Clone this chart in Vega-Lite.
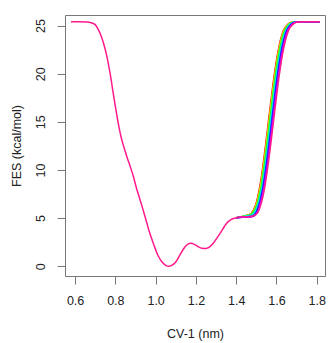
{
  "$schema": "https://vega.github.io/schema/vega-lite/v6.json",
  "width": 260,
  "height": 261,
  "autosize": "none",
  "padding": {"left": 65, "top": 15, "right": 4, "bottom": 67},
  "config": {
    "view": {"stroke": "#777777", "strokeWidth": 1},
    "font": "Liberation Sans",
    "axis": {
      "grid": false,
      "domain": false,
      "tickColor": "#777777",
      "tickSize": 8,
      "labelFontSize": 12.5,
      "titleFontSize": 12.5,
      "titleFontWeight": "normal",
      "labelColor": "#222222",
      "titleColor": "#222222",
      "labelFlush": false,
      "labelOverlap": false,
      "labelBound": false
    }
  },
  "data": {
    "values": [
      {"s": "a0", "x": 1.40, "y": 5.05},
      {"s": "a0", "x": 1.43, "y": 5.15},
      {"s": "a0", "x": 1.435, "y": 5.22},
      {"s": "a0", "x": 1.465, "y": 5.35},
      {"s": "a0", "x": 1.485, "y": 5.8},
      {"s": "a0", "x": 1.5, "y": 6.6},
      {"s": "a0", "x": 1.515, "y": 8.0},
      {"s": "a0", "x": 1.53, "y": 10.0},
      {"s": "a0", "x": 1.545, "y": 12.4},
      {"s": "a0", "x": 1.56, "y": 15.0},
      {"s": "a0", "x": 1.575, "y": 17.6},
      {"s": "a0", "x": 1.59, "y": 20.0},
      {"s": "a0", "x": 1.605, "y": 22.0},
      {"s": "a0", "x": 1.62, "y": 23.5},
      {"s": "a0", "x": 1.635, "y": 24.5},
      {"s": "a0", "x": 1.655, "y": 25.1},
      {"s": "a0", "x": 1.675, "y": 25.35},
      {"s": "a0", "x": 1.705, "y": 25.4},
      {"s": "a0", "x": 1.815, "y": 25.4},

      {"s": "a1", "x": 1.40, "y": 5.05},
      {"s": "a1", "x": 1.43, "y": 5.15},
      {"s": "a1", "x": 1.437, "y": 5.22},
      {"s": "a1", "x": 1.467, "y": 5.35},
      {"s": "a1", "x": 1.487, "y": 5.8},
      {"s": "a1", "x": 1.502, "y": 6.6},
      {"s": "a1", "x": 1.517, "y": 8.0},
      {"s": "a1", "x": 1.532, "y": 10.0},
      {"s": "a1", "x": 1.547, "y": 12.4},
      {"s": "a1", "x": 1.562, "y": 15.0},
      {"s": "a1", "x": 1.577, "y": 17.6},
      {"s": "a1", "x": 1.592, "y": 20.0},
      {"s": "a1", "x": 1.607, "y": 22.0},
      {"s": "a1", "x": 1.622, "y": 23.5},
      {"s": "a1", "x": 1.637, "y": 24.5},
      {"s": "a1", "x": 1.657, "y": 25.1},
      {"s": "a1", "x": 1.677, "y": 25.35},
      {"s": "a1", "x": 1.707, "y": 25.4},
      {"s": "a1", "x": 1.815, "y": 25.4},

      {"s": "a2", "x": 1.40, "y": 5.05},
      {"s": "a2", "x": 1.43, "y": 5.15},
      {"s": "a2", "x": 1.439, "y": 5.22},
      {"s": "a2", "x": 1.469, "y": 5.35},
      {"s": "a2", "x": 1.489, "y": 5.8},
      {"s": "a2", "x": 1.504, "y": 6.6},
      {"s": "a2", "x": 1.519, "y": 8.0},
      {"s": "a2", "x": 1.534, "y": 10.0},
      {"s": "a2", "x": 1.549, "y": 12.4},
      {"s": "a2", "x": 1.564, "y": 15.0},
      {"s": "a2", "x": 1.579, "y": 17.6},
      {"s": "a2", "x": 1.594, "y": 20.0},
      {"s": "a2", "x": 1.609, "y": 22.0},
      {"s": "a2", "x": 1.624, "y": 23.5},
      {"s": "a2", "x": 1.639, "y": 24.5},
      {"s": "a2", "x": 1.659, "y": 25.1},
      {"s": "a2", "x": 1.679, "y": 25.35},
      {"s": "a2", "x": 1.709, "y": 25.4},
      {"s": "a2", "x": 1.815, "y": 25.4},

      {"s": "a3", "x": 1.40, "y": 5.05},
      {"s": "a3", "x": 1.43, "y": 5.15},
      {"s": "a3", "x": 1.441, "y": 5.22},
      {"s": "a3", "x": 1.471, "y": 5.35},
      {"s": "a3", "x": 1.491, "y": 5.8},
      {"s": "a3", "x": 1.506, "y": 6.6},
      {"s": "a3", "x": 1.521, "y": 8.0},
      {"s": "a3", "x": 1.536, "y": 10.0},
      {"s": "a3", "x": 1.551, "y": 12.4},
      {"s": "a3", "x": 1.566, "y": 15.0},
      {"s": "a3", "x": 1.581, "y": 17.6},
      {"s": "a3", "x": 1.596, "y": 20.0},
      {"s": "a3", "x": 1.611, "y": 22.0},
      {"s": "a3", "x": 1.626, "y": 23.5},
      {"s": "a3", "x": 1.641, "y": 24.5},
      {"s": "a3", "x": 1.661, "y": 25.1},
      {"s": "a3", "x": 1.681, "y": 25.35},
      {"s": "a3", "x": 1.711, "y": 25.4},
      {"s": "a3", "x": 1.815, "y": 25.4},

      {"s": "a4", "x": 1.40, "y": 5.05},
      {"s": "a4", "x": 1.43, "y": 5.15},
      {"s": "a4", "x": 1.444, "y": 5.22},
      {"s": "a4", "x": 1.474, "y": 5.35},
      {"s": "a4", "x": 1.494, "y": 5.8},
      {"s": "a4", "x": 1.509, "y": 6.6},
      {"s": "a4", "x": 1.524, "y": 8.0},
      {"s": "a4", "x": 1.539, "y": 10.0},
      {"s": "a4", "x": 1.554, "y": 12.4},
      {"s": "a4", "x": 1.569, "y": 15.0},
      {"s": "a4", "x": 1.584, "y": 17.6},
      {"s": "a4", "x": 1.599, "y": 20.0},
      {"s": "a4", "x": 1.614, "y": 22.0},
      {"s": "a4", "x": 1.629, "y": 23.5},
      {"s": "a4", "x": 1.644, "y": 24.5},
      {"s": "a4", "x": 1.664, "y": 25.1},
      {"s": "a4", "x": 1.684, "y": 25.35},
      {"s": "a4", "x": 1.714, "y": 25.4},
      {"s": "a4", "x": 1.815, "y": 25.4},

      {"s": "a5", "x": 1.40, "y": 5.05},
      {"s": "a5", "x": 1.43, "y": 5.15},
      {"s": "a5", "x": 1.447, "y": 5.2},
      {"s": "a5", "x": 1.477, "y": 5.3},
      {"s": "a5", "x": 1.497, "y": 5.75},
      {"s": "a5", "x": 1.512, "y": 6.6},
      {"s": "a5", "x": 1.527, "y": 8.0},
      {"s": "a5", "x": 1.542, "y": 10.0},
      {"s": "a5", "x": 1.557, "y": 12.4},
      {"s": "a5", "x": 1.572, "y": 15.0},
      {"s": "a5", "x": 1.587, "y": 17.6},
      {"s": "a5", "x": 1.602, "y": 20.0},
      {"s": "a5", "x": 1.617, "y": 22.0},
      {"s": "a5", "x": 1.632, "y": 23.5},
      {"s": "a5", "x": 1.647, "y": 24.5},
      {"s": "a5", "x": 1.667, "y": 25.1},
      {"s": "a5", "x": 1.687, "y": 25.35},
      {"s": "a5", "x": 1.717, "y": 25.4},
      {"s": "a5", "x": 1.815, "y": 25.4},

      {"s": "a6", "x": 1.40, "y": 5.05},
      {"s": "a6", "x": 1.43, "y": 5.12},
      {"s": "a6", "x": 1.45, "y": 5.15},
      {"s": "a6", "x": 1.48, "y": 5.25},
      {"s": "a6", "x": 1.50, "y": 5.7},
      {"s": "a6", "x": 1.515, "y": 6.6},
      {"s": "a6", "x": 1.53, "y": 8.0},
      {"s": "a6", "x": 1.545, "y": 10.0},
      {"s": "a6", "x": 1.56, "y": 12.4},
      {"s": "a6", "x": 1.575, "y": 15.0},
      {"s": "a6", "x": 1.59, "y": 17.6},
      {"s": "a6", "x": 1.605, "y": 20.0},
      {"s": "a6", "x": 1.62, "y": 22.0},
      {"s": "a6", "x": 1.635, "y": 23.5},
      {"s": "a6", "x": 1.65, "y": 24.5},
      {"s": "a6", "x": 1.67, "y": 25.1},
      {"s": "a6", "x": 1.69, "y": 25.35},
      {"s": "a6", "x": 1.72, "y": 25.4},
      {"s": "a6", "x": 1.815, "y": 25.4},

      {"s": "a7", "x": 1.40, "y": 5.05},
      {"s": "a7", "x": 1.43, "y": 5.1},
      {"s": "a7", "x": 1.453, "y": 5.12},
      {"s": "a7", "x": 1.483, "y": 5.2},
      {"s": "a7", "x": 1.503, "y": 5.65},
      {"s": "a7", "x": 1.518, "y": 6.6},
      {"s": "a7", "x": 1.533, "y": 8.0},
      {"s": "a7", "x": 1.548, "y": 10.0},
      {"s": "a7", "x": 1.563, "y": 12.4},
      {"s": "a7", "x": 1.578, "y": 15.0},
      {"s": "a7", "x": 1.593, "y": 17.6},
      {"s": "a7", "x": 1.608, "y": 20.0},
      {"s": "a7", "x": 1.623, "y": 22.0},
      {"s": "a7", "x": 1.638, "y": 23.5},
      {"s": "a7", "x": 1.653, "y": 24.5},
      {"s": "a7", "x": 1.673, "y": 25.1},
      {"s": "a7", "x": 1.693, "y": 25.35},
      {"s": "a7", "x": 1.723, "y": 25.4},
      {"s": "a7", "x": 1.815, "y": 25.4},

      {"s": "a8", "x": 1.40, "y": 5.05},
      {"s": "a8", "x": 1.43, "y": 5.1},
      {"s": "a8", "x": 1.456, "y": 5.1},
      {"s": "a8", "x": 1.486, "y": 5.2},
      {"s": "a8", "x": 1.506, "y": 5.6},
      {"s": "a8", "x": 1.521, "y": 6.6},
      {"s": "a8", "x": 1.536, "y": 8.0},
      {"s": "a8", "x": 1.551, "y": 10.0},
      {"s": "a8", "x": 1.566, "y": 12.4},
      {"s": "a8", "x": 1.581, "y": 15.0},
      {"s": "a8", "x": 1.596, "y": 17.6},
      {"s": "a8", "x": 1.611, "y": 20.0},
      {"s": "a8", "x": 1.626, "y": 22.0},
      {"s": "a8", "x": 1.641, "y": 23.5},
      {"s": "a8", "x": 1.656, "y": 24.5},
      {"s": "a8", "x": 1.676, "y": 25.1},
      {"s": "a8", "x": 1.696, "y": 25.35},
      {"s": "a8", "x": 1.726, "y": 25.4},
      {"s": "a8", "x": 1.815, "y": 25.4},

      {"s": "a9", "x": 0.58, "y": 25.4},
      {"s": "a9", "x": 0.62, "y": 25.4},
      {"s": "a9", "x": 0.66, "y": 25.38},
      {"s": "a9", "x": 0.68, "y": 25.3},
      {"s": "a9", "x": 0.70, "y": 25.1},
      {"s": "a9", "x": 0.715, "y": 24.6},
      {"s": "a9", "x": 0.73, "y": 23.9},
      {"s": "a9", "x": 0.745, "y": 22.9},
      {"s": "a9", "x": 0.76, "y": 21.6},
      {"s": "a9", "x": 0.775, "y": 19.9},
      {"s": "a9", "x": 0.79, "y": 17.9},
      {"s": "a9", "x": 0.80, "y": 16.6},
      {"s": "a9", "x": 0.815, "y": 14.8},
      {"s": "a9", "x": 0.83, "y": 13.3},
      {"s": "a9", "x": 0.845, "y": 12.2},
      {"s": "a9", "x": 0.86, "y": 11.2},
      {"s": "a9", "x": 0.875, "y": 10.3},
      {"s": "a9", "x": 0.89, "y": 9.3},
      {"s": "a9", "x": 0.905, "y": 8.1},
      {"s": "a9", "x": 0.92, "y": 7.1},
      {"s": "a9", "x": 0.94, "y": 5.7},
      {"s": "a9", "x": 0.955, "y": 4.6},
      {"s": "a9", "x": 0.97, "y": 3.5},
      {"s": "a9", "x": 0.99, "y": 2.3},
      {"s": "a9", "x": 1.01, "y": 1.2},
      {"s": "a9", "x": 1.03, "y": 0.5},
      {"s": "a9", "x": 1.05, "y": 0.1},
      {"s": "a9", "x": 1.065, "y": 0.0},
      {"s": "a9", "x": 1.08, "y": 0.1},
      {"s": "a9", "x": 1.10, "y": 0.45},
      {"s": "a9", "x": 1.12, "y": 1.15},
      {"s": "a9", "x": 1.14, "y": 1.85},
      {"s": "a9", "x": 1.16, "y": 2.3},
      {"s": "a9", "x": 1.175, "y": 2.38},
      {"s": "a9", "x": 1.19, "y": 2.3},
      {"s": "a9", "x": 1.21, "y": 2.05},
      {"s": "a9", "x": 1.23, "y": 1.88},
      {"s": "a9", "x": 1.25, "y": 1.85},
      {"s": "a9", "x": 1.27, "y": 2.05},
      {"s": "a9", "x": 1.29, "y": 2.5},
      {"s": "a9", "x": 1.31, "y": 3.1},
      {"s": "a9", "x": 1.33, "y": 3.75},
      {"s": "a9", "x": 1.35, "y": 4.4},
      {"s": "a9", "x": 1.37, "y": 4.8},
      {"s": "a9", "x": 1.40, "y": 5.05},
      {"s": "a9", "x": 1.43, "y": 5.12},
      {"s": "a9", "x": 1.46, "y": 5.15},
      {"s": "a9", "x": 1.49, "y": 5.28},
      {"s": "a9", "x": 1.51, "y": 5.7},
      {"s": "a9", "x": 1.525, "y": 6.6},
      {"s": "a9", "x": 1.54, "y": 8.0},
      {"s": "a9", "x": 1.555, "y": 10.0},
      {"s": "a9", "x": 1.57, "y": 12.4},
      {"s": "a9", "x": 1.585, "y": 15.0},
      {"s": "a9", "x": 1.60, "y": 17.6},
      {"s": "a9", "x": 1.615, "y": 20.0},
      {"s": "a9", "x": 1.63, "y": 22.0},
      {"s": "a9", "x": 1.645, "y": 23.5},
      {"s": "a9", "x": 1.66, "y": 24.5},
      {"s": "a9", "x": 1.68, "y": 25.1},
      {"s": "a9", "x": 1.70, "y": 25.35},
      {"s": "a9", "x": 1.73, "y": 25.4},
      {"s": "a9", "x": 1.815, "y": 25.4}
    ]
  },
  "encoding": {
    "x": {
      "field": "x",
      "type": "quantitative",
      "scale": {"domain": [0.55, 1.841], "nice": false, "zero": false},
      "axis": {
        "values": [0.6, 0.8, 1.0, 1.2, 1.4, 1.6, 1.8],
        "format": ".1f",
        "title": "CV-1 (nm)",
        "labelPadding": 10,
        "titlePadding": 21
      }
    },
    "y": {
      "field": "y",
      "type": "quantitative",
      "scale": {"domain": [-1.01, 26.1], "nice": false, "zero": false},
      "axis": {
        "values": [0, 5, 10, 15, 20, 25],
        "title": "FES (kcal/mol)",
        "labelAngle": -90,
        "labelAlign": "center",
        "labelBaseline": "bottom",
        "labelPadding": 10,
        "titlePadding": 11
      }
    },
    "color": {
      "field": "s",
      "type": "nominal",
      "scale": {
        "domain": ["a0", "a1", "a2", "a3", "a4", "a5", "a6", "a7", "a8", "a9"],
        "range": ["#FF0000", "#FF9900", "#CCFF00", "#33FF00", "#00FF66", "#00FFFF", "#0066FF", "#3300FF", "#CC00FF", "#FF1A8C"]
      },
      "legend": null
    }
  },
  "layer": [
    {
      "transform": [{"filter": "datum.s != 'a9'"}],
      "mark": {"type": "line", "interpolate": "monotone", "strokeWidth": 1.5}
    },
    {
      "transform": [{"filter": "datum.s == 'a9'"}],
      "mark": {"type": "line", "interpolate": "monotone", "strokeWidth": 1.5}
    }
  ]
}
